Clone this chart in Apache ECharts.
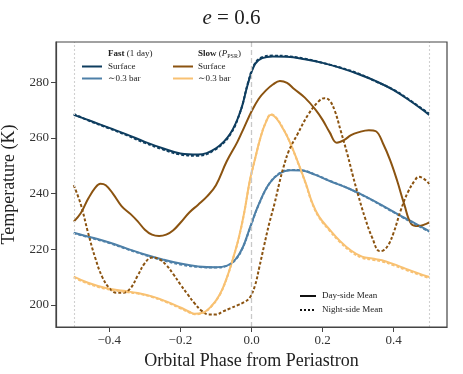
<!DOCTYPE html>
<html><head><meta charset="utf-8">
<script src="https://cdn.jsdelivr.net/npm/echarts@6/dist/echarts.min.js"></script>
<style>html,body{margin:0;padding:0;background:#fff}#c{width:463px;height:374px}</style>
</head><body><div id="c"></div>
<script>
const xTicks = [-0.4, -0.2, 0.0, 0.2, 0.4];
const yTicks = [200, 220, 240, 260, 280];
const refLines = [-0.5, 0.0, 0.5];

const fastSurfaceDay = [[-0.5,268.3],[-0.45,266],[-0.4,263.6],[-0.35,261.2],[-0.3,258.6],[-0.25,256.3],[-0.2,254.4],[-0.15,254],[-0.1,256.3],[-0.06,261.5],[-0.03,270],[-0.01,279.5],[0.01,286.6],[0.03,288.7],[0.06,289.3],[0.1,289.2],[0.15,288.3],[0.2,287],[0.25,285.2],[0.3,283],[0.35,280.4],[0.4,277.2],[0.45,273],[0.5,268.3]];
const fastSurfaceNight = [[-0.5,268.6],[-0.45,265.8],[-0.4,263.4],[-0.35,260.9],[-0.3,258.2],[-0.25,255.9],[-0.2,254],[-0.15,253.6],[-0.1,256],[-0.06,261.2],[-0.03,270],[-0.01,279.8],[0.01,286.9],[0.03,289],[0.06,289.6],[0.1,289.4],[0.15,288.5],[0.2,287],[0.25,285.3],[0.3,283.2],[0.35,280.3],[0.4,277.3],[0.45,273.2],[0.5,268.7]];
const fastBarDay = [[-0.5,225.9],[-0.45,224.2],[-0.4,222.4],[-0.35,220.2],[-0.3,218.1],[-0.25,216.3],[-0.2,214.8],[-0.15,213.8],[-0.1,213.5],[-0.07,214],[-0.045,216.3],[-0.025,220.5],[-0.005,227.5],[0.02,236],[0.05,243.6],[0.08,247.3],[0.11,248.4],[0.14,248.3],[0.18,246.7],[0.22,244.5],[0.27,242],[0.32,239],[0.37,235.6],[0.42,232],[0.46,229.3],[0.5,226.5]];
const fastBarNight = [[-0.5,225.7],[-0.45,224],[-0.4,222.2],[-0.35,220],[-0.3,217.9],[-0.25,216],[-0.2,214.5],[-0.15,213.6],[-0.1,213.4],[-0.07,214],[-0.045,216.2],[-0.025,220.4],[-0.005,227.3],[0.02,235.9],[0.05,243.5],[0.08,247.4],[0.11,248.5],[0.14,248.4],[0.18,246.8],[0.22,244.6],[0.27,242],[0.32,238.9],[0.37,235.4],[0.42,231.8],[0.46,229],[0.5,226.3]];
const slowSurfaceDay = [[-0.5,229.9],[-0.48,233],[-0.46,238],[-0.44,242],[-0.425,243.5],[-0.41,243],[-0.39,240],[-0.365,235.4],[-0.34,232.6],[-0.32,230],[-0.3,227],[-0.28,225.2],[-0.26,224.7],[-0.24,225.2],[-0.22,226.8],[-0.2,229.5],[-0.175,233.2],[-0.15,236],[-0.125,239],[-0.1,243],[-0.07,251.5],[-0.04,258.5],[-0.02,264],[0,269.5],[0.02,274],[0.04,277],[0.06,279.2],[0.08,280.5],[0.1,279.8],[0.12,277.6],[0.15,274.5],[0.18,270.2],[0.2,266.5],[0.22,262],[0.24,258.3],[0.26,259.2],[0.28,261],[0.3,262],[0.33,262.8],[0.35,262.4],[0.37,258],[0.39,252],[0.41,244.5],[0.43,236],[0.45,229],[0.47,228.3],[0.49,229],[0.5,229.6]];
const slowSurfaceNight = [[-0.5,243],[-0.48,236],[-0.46,226],[-0.44,217],[-0.42,210],[-0.4,206],[-0.38,204.3],[-0.36,204.3],[-0.34,206],[-0.32,210.5],[-0.3,215],[-0.28,217],[-0.26,216.4],[-0.24,214.3],[-0.22,211],[-0.2,207.3],[-0.18,203.8],[-0.16,200.5],[-0.14,197.8],[-0.12,196.5],[-0.1,196.5],[-0.08,197.6],[-0.06,198.7],[-0.04,199.8],[-0.02,201],[-0.005,202.5],[0.01,207],[0.022,213.5],[0.035,221],[0.05,229.3],[0.065,236.5],[0.078,243.6],[0.09,249.5],[0.106,255.6],[0.13,261.5],[0.16,268.5],[0.19,273.3],[0.205,274.3],[0.22,273.4],[0.235,269.5],[0.25,263],[0.27,254],[0.285,246.5],[0.3,239.5],[0.32,231],[0.34,224],[0.36,219.3],[0.37,219.5],[0.385,221.5],[0.4,226],[0.42,234],[0.44,240.5],[0.46,244.8],[0.47,246],[0.485,245.3],[0.5,243.5]];
const slowBarDay = [[-0.5,210.1],[-0.46,207.9],[-0.41,206],[-0.36,205],[-0.32,204.2],[-0.28,203],[-0.24,201.2],[-0.2,199],[-0.175,197.5],[-0.16,196.8],[-0.14,197],[-0.115,199.2],[-0.09,203.5],[-0.07,209.5],[-0.05,217.5],[-0.035,224.5],[-0.02,233.5],[-0.005,244.5],[0.01,252.5],[0.025,260],[0.04,265.5],[0.055,268.3],[0.07,267],[0.09,263],[0.106,259],[0.13,251.5],[0.153,243.6],[0.17,237],[0.19,231.7],[0.22,227],[0.246,223.3],[0.28,219.5],[0.311,217.3],[0.34,216.6],[0.367,216],[0.4,214.6],[0.433,213],[0.47,211.3],[0.5,210]];
const slowBarNight = [[-0.5,209.8],[-0.46,207.6],[-0.41,205.7],[-0.36,204.7],[-0.32,204],[-0.28,202.8],[-0.24,201],[-0.2,198.7],[-0.175,197.2],[-0.16,196.6],[-0.14,196.9],[-0.115,199.1],[-0.09,203.4],[-0.07,209.4],[-0.05,217.4],[-0.035,224.4],[-0.02,233.4],[-0.005,244.3],[0.01,252.4],[0.025,260],[0.04,265.6],[0.055,268.5],[0.07,267.2],[0.09,263.2],[0.106,259],[0.13,251.3],[0.153,243.3],[0.17,236.7],[0.19,231.4],[0.22,226.6],[0.246,222.9],[0.28,219.1],[0.311,216.9],[0.34,216.2],[0.367,215.6],[0.4,214.2],[0.433,212.6],[0.47,210.9],[0.5,209.6]];

const C = {fastS:'#0e3d5f', fastB:'#4e80a8', slowS:'#8b5310', slowB:'#f8c172'};
const SERIF = '"Liberation Serif","DejaVu Serif",serif';

function line(data, color, night, z){
  return {type:'line', data:data, smooth:0.4, showSymbol:false, symbol:'none', z:z,
    lineStyle:{color:color, width:2, type: night ? [3,2] : 'solid'}};
}

const chart = echarts.init(document.getElementById('c'), null, {renderer:'canvas'});
chart.setOption({
  animation:false,
  backgroundColor:'#fff',
  title:{text:'{i|e} = 0.6', left:'center', top:3, textStyle:{fontFamily:SERIF, fontSize:21, fontWeight:'normal', color:'#222',
     rich:{i:{fontFamily:SERIF, fontStyle:'italic', fontSize:21, color:'#222'}}}},
  grid:{left:56, right:16, top:42, bottom:47, containLabel:false, outerBoundsMode:'none'},
  xAxis:{type:'value', min:-0.55, max:0.55,
    name:'Orbital Phase from Periastron', nameLocation:'middle', nameGap:23,
    nameTextStyle:{fontFamily:SERIF, fontSize:18, color:'#222'},
    axisLine:{show:true, onZero:false, lineStyle:{color:'#444', width:1.2}},
    axisTick:{show:true, customValues:xTicks, length:5, lineStyle:{color:'#444'}},
    axisLabel:{customValues:xTicks, fontFamily:SERIF, fontSize:13, color:'#333', margin:7,
      formatter:v=> (v<0?'\u2212':'') + Math.abs(v).toFixed(1)},
    splitLine:{show:false}},
  yAxis:{type:'value', min:192, max:294.5,
    name:'Temperature (K)', nameLocation:'middle', nameGap:31,
    nameTextStyle:{fontFamily:SERIF, fontSize:18, color:'#222'},
    axisLine:{show:true, onZero:false, lineStyle:{color:'#444', width:1.2}},
    axisTick:{show:true, customValues:yTicks, length:5, lineStyle:{color:'#444'}},
    axisLabel:{customValues:yTicks, fontFamily:SERIF, fontSize:13, color:'#333', margin:7},
    splitLine:{show:false}},
  series:[
    {type:'line', data:[], z:1, markLine:{symbol:'none', silent:true, label:{show:false},
      data: refLines.map(v=>({xAxis:v, lineStyle:{color: v===0 ? '#c8c8c8' : '#d0d0d0', width: v===0?1.3:1.1, type: v===0 ? [5,3] : [2,2]}}))}},
    line(fastSurfaceDay, C.fastS, false, 3),
    line(fastSurfaceNight, C.fastS, true, 4),
    line(fastBarDay, C.fastB, false, 3),
    line(fastBarNight, C.fastB, true, 4),
    line(slowSurfaceDay, C.slowS, false, 3),
    line(slowSurfaceNight, C.slowS, true, 4),
    line(slowBarDay, C.slowB, false, 3),
    line(slowBarNight, C.slowB, true, 4)
  ],
  graphic:[
    {type:'rect', shape:{x:56,y:42,width:391,height:285}, style:{fill:'none', stroke:'#444', lineWidth:1.2}, z:10, silent:true},
    {type:'text', x:108, y:54, style:{text:'{b|Fast} (1 day)', font:'9px '+SERIF, fill:'#222', verticalAlign:'middle',
      rich:{b:{fontFamily:SERIF, fontSize:9, fontWeight:'bold', fill:'#222'}}}, z:10},
    {type:'text', x:198, y:54, style:{text:'{b|Slow} ({i|P}{s|PSR})', font:'9px '+SERIF, fill:'#222', verticalAlign:'middle',
      rich:{b:{fontFamily:SERIF, fontSize:9, fontWeight:'bold', fill:'#222'}, i:{fontFamily:SERIF, fontSize:9, fontStyle:'italic', fill:'#222'}, s:{fontFamily:SERIF, fontSize:6, fill:'#222', padding:[4,0,0,0]}}}, z:10},
    {type:'line', shape:{x1:82,y1:66.5,x2:102,y2:66.5}, style:{stroke:C.fastS, lineWidth:2}, z:10},
    {type:'line', shape:{x1:82,y1:78.5,x2:102,y2:78.5}, style:{stroke:C.fastB, lineWidth:2}, z:10},
    {type:'line', shape:{x1:173,y1:66.5,x2:193,y2:66.5}, style:{stroke:C.slowS, lineWidth:2}, z:10},
    {type:'line', shape:{x1:173,y1:78.5,x2:193,y2:78.5}, style:{stroke:C.slowB, lineWidth:2}, z:10},
    {type:'text', x:108, y:66.5, style:{text:'Surface', font:'9px '+SERIF, fill:'#222', verticalAlign:'middle'}, z:10},
    {type:'text', x:108, y:78.5, style:{text:'\u223C0.3 bar', font:'9px '+SERIF, fill:'#222', verticalAlign:'middle'}, z:10},
    {type:'text', x:198, y:66.5, style:{text:'Surface', font:'9px '+SERIF, fill:'#222', verticalAlign:'middle'}, z:10},
    {type:'text', x:198, y:78.5, style:{text:'\u223C0.3 bar', font:'9px '+SERIF, fill:'#222', verticalAlign:'middle'}, z:10},
    {type:'line', shape:{x1:300,y1:296,x2:316,y2:296}, style:{stroke:'#111', lineWidth:2}, z:10},
    {type:'line', shape:{x1:300,y1:310,x2:316,y2:310}, style:{stroke:'#111', lineWidth:2, lineDash:[2,2]}, z:10},
    {type:'text', x:322, y:296, style:{text:'Day-side Mean', font:'9px '+SERIF, fill:'#222', verticalAlign:'middle'}, z:10},
    {type:'text', x:322, y:310, style:{text:'Night-side Mean', font:'9px '+SERIF, fill:'#222', verticalAlign:'middle'}, z:10}
  ]
});
</script></body></html>
